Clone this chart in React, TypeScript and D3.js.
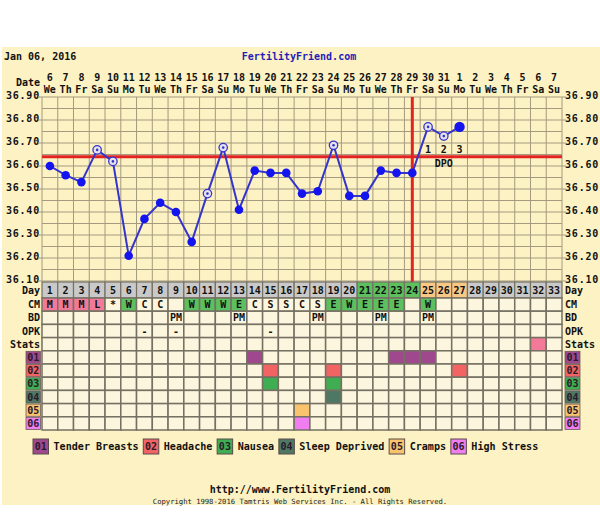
import * as d3 from 'd3'

// cycle days and their calendar labels
const cycleDays = [1, 2, 3, 4, 5, 6, 7, 8, 9, 10, 11, 12, 13, 14, 15, 16, 17, 18, 19, 20, 21, 22, 23, 24, 25, 26, 27, 28, 29, 30, 31, 32, 33]
const dateLabels = ['6', '7', '8', '9', '10', '11', '12', '13', '14', '15', '16', '17', '18', '19', '20', '21', '22', '23', '24', '25', '26', '27', '28', '29', '30', '31', '1', '2', '3', '4', '5', '6', '7']
const weekdayLabels = ['We', 'Th', 'Fr', 'Sa', 'Su', 'Mo', 'Tu', 'We', 'Th', 'Fr', 'Sa', 'Su', 'Mo', 'Tu', 'We', 'Th', 'Fr', 'Sa', 'Su', 'Mo', 'Tu', 'We', 'Th', 'Fr', 'Sa', 'Su', 'Mo', 'Tu', 'We', 'Th', 'Fr', 'Sa', 'Su']

// temperatures (cycle day 1..27)
const temps = [36.60, 36.56, 36.53, 36.67, 36.62, 36.21, 36.37, 36.44, 36.40, 36.27, 36.48, 36.68, 36.41, 36.58, 36.57, 36.57, 36.48, 36.49, 36.69, 36.47, 36.47, 36.58, 36.57, 36.57, 36.77, 36.73, 36.77]
const openDays = [4, 5, 11, 12, 19, 25, 26]
const coverline = 36.64
const ovulationDay = 24
const dpoLabels = ['1', '2', '3']
const yTicks = [36.9, 36.8, 36.7, 36.6, 36.5, 36.4, 36.3, 36.2, 36.1]

const fertileDays = [21, 22, 23, 24]
const lutealDays = [25, 26, 27]

const cmValues = ['M', 'M', 'M', 'L', '*', 'W', 'C', 'C', '', 'W', 'W', 'W', 'E', 'C', 'S', 'S', 'C', 'S', 'E', 'W', 'E', 'E', 'E', '', 'W']
const bdDays = [9, 13, 18, 22, 25]
const opkDays = [7, 9, 15]
const statsDays = [32]

const symptomCodes = ['01', '02', '03', '04', '05', '06']
const symptomNames = ['Tender Breasts', 'Headache', 'Nausea', 'Sleep Deprived', 'Cramps', 'High Stress']
const symptomColors = ['#a0488e', '#f26464', '#3fae52', '#4f7864', '#f9c46e', '#f07ef0']
const symptomDays = [[14, 23, 24, 25], [15, 19, 27], [15, 19], [19], [17], [17]]

const rowLabels = ['CM', 'BD', 'OPK', 'Stats']

const FONT = '"DejaVu Sans Mono", monospace'
const BG = '#fdf2c3'
const CELL = '#fcf6df'
const GRID = '#a39a80'
const CELL_LINE = '#757062'

export default function App() {
  const x = d3.scaleBand<number>().domain(cycleDays).range([42, 562])
  const bw = x.bandwidth()
  const cx = (d: number) => (x(d) || 0) + bw / 2
  const y = d3.scaleLinear().domain([36.1, 36.9]).range([281, 97])

  const points = temps.map((t, i) => ({ day: i + 1, t }))
  const line = d3.line<{ day: number; t: number }>()
    .x(d => cx(d.day))
    .y(d => y(d.t))

  const dayTop = 282
  const dayH = 16
  const rowTop = dayTop + dayH
  const rowH = 13.2
  const rowY = (r: number) => rowTop + r * rowH

  const cmFill = (v: string) => (v === 'M' || v === 'L') ? '#f27a98' : (v === 'W' || v === 'E') ? '#5cc05e' : CELL
  const dayFill = (d: number) => fertileDays.includes(d) ? '#5cc05e' : lutealDays.includes(d) ? '#f9c884' : '#c9c9c9'

  const charW = 6.07
  let lx = 33
  const legend = symptomCodes.map((c, i) => {
    const item = { code: c, name: symptomNames[i], color: symptomColors[i], bx: lx, tx: lx + 20.5 }
    lx = item.tx + symptomNames[i].length * charW + 4.8
    return item
  })

  const gridLines = y.ticks(16)

  return (
    <div style={{ position: 'absolute', left: 0, top: 0 }}>
      <svg width={600} height={527} style={{ display: 'block' }} fontFamily={FONT} fontWeight="bold" fontSize={10}>
        <rect x={0} y={0} width={600} height={527} fill="#ffffff" />
        <rect x={2} y={47} width={598} height={458} fill={BG} />

        <text x={4} y={60} fill="#111">Jan 06, 2016</text>
        <text x={299} y={60} textAnchor="middle" fill="#1f1fb8">FertilityFriend.com</text>

        {/* date header */}
        <text x={40} y={86} textAnchor="end" fill="#111">Date</text>
        {cycleDays.map((d, i) => (
          <g key={'dh' + d}>
            <text x={cx(d)} y={81} textAnchor="middle" fill="#111">{dateLabels[i]}</text>
            <text x={cx(d)} y={93} textAnchor="middle" fill="#111">{weekdayLabels[i]}</text>
          </g>
        ))}

        {/* temperature grid */}
        {gridLines.map(t => (
          <line key={'h' + t} x1={42} x2={562} y1={y(t)} y2={y(t)} stroke={GRID} strokeWidth={1} />
        ))}
        {[...cycleDays, 34].map(d => {
          const xx = d <= 33 ? (x(d) || 0) : 562
          return <line key={'v' + d} x1={xx} x2={xx} y1={y(36.9)} y2={y(36.1)} stroke={GRID} strokeWidth={1} />
        })}
        {yTicks.map(t => (
          <g key={'yt' + t}>
            <text x={40} y={y(t) + 2} textAnchor="end" fill="#111" letterSpacing={0.8}>{t.toFixed(2)}</text>
            <line x1={38} x2={42} y1={y(t)} y2={y(t)} stroke={GRID} />
            <text x={565} y={y(t) + 2} fill="#111" letterSpacing={0.8}>{t.toFixed(2)}</text>
            <line x1={562} x2={566} y1={y(t)} y2={y(t)} stroke={GRID} />
          </g>
        ))}

        {/* coverline and ovulation line */}
        <line x1={42} x2={562} y1={y(coverline)} y2={y(coverline)} stroke="#e32222" strokeWidth={3} />
        <line x1={cx(ovulationDay)} x2={cx(ovulationDay)} y1={y(36.9)} y2={dayTop} stroke="#e32222" strokeWidth={3} />

        {/* DPO */}
        {dpoLabels.map((l, i) => (
          <text key={'dpo' + l} x={cx(ovulationDay + 1 + i)} y={153} textAnchor="middle" fill="#111">{l}</text>
        ))}
        <text x={cx(ovulationDay + 2)} y={167} textAnchor="middle" fill="#111">DPO</text>

        {/* temperature line */}
        <path d={line(points) || ''} fill="none" stroke="#3535cc" strokeWidth={2} />
        {points.map((p, i) => {
          const open = openDays.includes(p.day)
          const last = i === points.length - 1
          return open ? (
            <g key={'p' + p.day}>
              <circle cx={cx(p.day)} cy={y(p.t)} r={4.2} fill="#e6e2ee" stroke="#3535cc" strokeWidth={1.3} />
              <circle cx={cx(p.day)} cy={y(p.t)} r={1.3} fill="#3535cc" />
            </g>
          ) : (
            <circle key={'p' + p.day} cx={cx(p.day)} cy={y(p.t)} r={last ? 5.2 : 4.3} fill="#1414ee" />
          )
        })}

        {/* day row */}
        <text x={40} y={dayTop + 12} textAnchor="end" fill="#111">Day</text>
        <text x={565} y={dayTop + 12} fill="#111">Day</text>
        {cycleDays.map(d => (
          <g key={'day' + d}>
            <rect x={x(d)} y={dayTop} width={bw} height={dayH} fill={dayFill(d)} stroke={CELL_LINE} strokeWidth={1.2} />
            <text x={cx(d)} y={dayTop + 12} textAnchor="middle" fill="#111">{d}</text>
          </g>
        ))}

        {/* CM, BD, OPK, Stats and symptom rows */}
        {cycleDays.map(d => (
          <g key={'col' + d}>
            {d3.range(10).map(r => {
              let fill = CELL
              let label = ''
              if (r === 0) {
                label = cmValues[d - 1] || ''
                fill = cmFill(label)
              } else if (r === 1) {
                label = bdDays.includes(d) ? 'PM' : ''
              } else if (r === 2) {
                label = opkDays.includes(d) ? '-' : ''
              } else if (r === 3) {
                if (statsDays.includes(d)) fill = '#f27a98'
              } else {
                const s = r - 4
                if (symptomDays[s].includes(d)) fill = symptomColors[s]
              }
              return (
                <g key={'c' + r}>
                  <rect x={x(d)} y={rowY(r)} width={bw} height={rowH} fill={fill} stroke={CELL_LINE} strokeWidth={1.5} />
                  {label && (
                    <text x={cx(d)} y={rowY(r) + rowH / 2 + 3.5} textAnchor="middle" fill="#111">{label}</text>
                  )}
                </g>
              )
            })}
          </g>
        ))}

        {rowLabels.map((l, r) => (
          <g key={'rl' + l}>
            <text x={40} y={rowY(r) + rowH / 2 + 3.5} textAnchor="end" fill="#111">{l}</text>
            <text x={565} y={rowY(r) + rowH / 2 + 3.5} fill="#111">{l}</text>
          </g>
        ))}
        {symptomCodes.map((c, s) => {
          const yy = rowY(s + 4)
          return (
            <g key={'sl' + c}>
              <rect x={26} y={yy + 0.5} width={14.5} height={rowH - 1} fill={symptomColors[s]} stroke="#6a5a5a" strokeWidth={0.8} />
              <text x={33.3} y={yy + rowH / 2 + 3.5} textAnchor="middle" fill="#2a1a2a">{c}</text>
              <rect x={565} y={yy + 0.5} width={15} height={rowH - 1} fill={symptomColors[s]} stroke="#6a5a5a" strokeWidth={0.8} />
              <text x={572.5} y={yy + rowH / 2 + 3.5} textAnchor="middle" fill="#2a1a2a">{c}</text>
            </g>
          )
        })}

        {/* legend */}
        {legend.map(item => (
          <g key={'lg' + item.code}>
            <rect x={item.bx} y={439} width={15.5} height={15} fill={item.color} stroke="#5a4a4a" strokeWidth={1} />
            <text x={item.bx + 7.75} y={450} textAnchor="middle" fill="#2a1a2a">{item.code}</text>
            <text x={item.tx} y={450} fill="#111" fontSize={10.1}>{item.name}</text>
          </g>
        ))}

        <text x={300} y={493} textAnchor="middle" fill="#111">http://www.FertilityFriend.com</text>
        <text x={300} y={504} textAnchor="middle" fill="#222" fontSize={7.2} fontWeight="normal">Copyright 1998-2016 Tamtris Web Services Inc. - All Rights Reserved.</text>
      </svg>
    </div>
  )
}
